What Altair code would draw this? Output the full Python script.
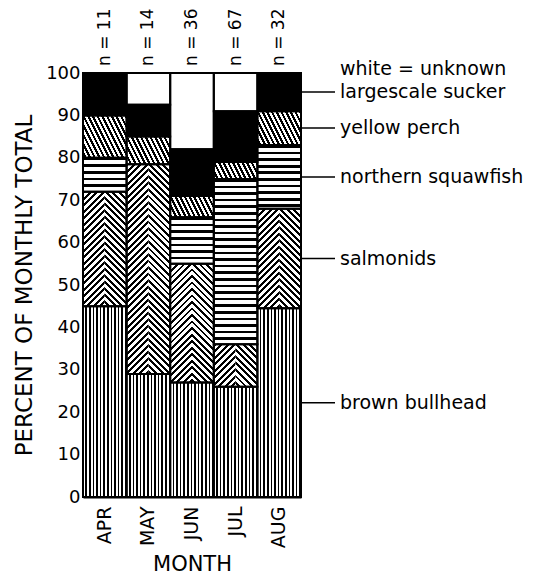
import math
import altair as alt
import pandas as pd

# ---- data ----
months = ["APR", "MAY", "JUN", "JUL", "AUG"]
n_fish = [11, 14, 36, 67, 32]
brown_bullhead = [45, 29, 27, 26, 44.5]
salmonids = [27, 49.5, 28, 10, 23.5]
northern_squawfish = [8, 0, 11, 39, 15]
yellow_perch = [10, 6.5, 5, 4, 8]
largescale_sucker = [10, 7.5, 11, 12, 9]
unknown = [0, 7.5, 18, 9, 0]
species = ["brown bullhead", "salmonids", "northern squawfish",
           "yellow perch", "largescale sucker", "unknown"]
legend_text = ["brown bullhead", "salmonids", "northern squawfish",
               "yellow perch", "largescale sucker", "white = unknown"]
series = [brown_bullhead, salmonids, northern_squawfish,
          yellow_perch, largescale_sucker, unknown]

# ---- layout ----
PLOT_W, PLOT_H = 218, 424
BAND = PLOT_W / len(months)
PX = PLOT_H / 100.0
FONT = "DejaVu Sans"

rows = []
for i, m in enumerate(months):
    acc = 0.0
    for s, lab, vals in zip(species, legend_text, series):
        v = vals[i]
        rows.append(dict(month=m, species=s, label=lab, value=v,
                         start=acc, end=acc + v, mid=acc + v / 2))
        acc += v
df = pd.DataFrame(rows)
ndf = pd.DataFrame({"month": months, "label": [f"n = {n}" for n in n_fish]})


def stripes(w, h, dx, dy, period, frac, fg="black", bg="white"):
    """Linear gradient with hard stops that draws parallel lines
    running in direction (dx, dy) inside a w x h box."""
    L = math.hypot(dx, dy)
    nx, ny = -dy / L, dx / L
    corners = [(0, 0), (1, 0), (0, 1), (1, 1)]
    fs = [cu * w * nx + cv * h * ny for cu, cv in corners]
    imin = min(range(4), key=lambda k: fs[k])
    fmin, fmax = fs[imin], max(fs)
    R = fmax - fmin
    gx, gy = w * nx / R, h * ny / R
    g2 = gx * gx + gy * gy
    p1 = corners[imin]
    p2 = (p1[0] + gx / g2, p1[1] + gy / g2)
    n = R / period
    stops = []
    k = 0
    while k / n < 1:
        s = k / n
        e = min((k + frac) / n, 1.0)
        nxt = min((k + 1) / n, 1.0)
        stops += [{"offset": round(s, 5), "color": fg},
                  {"offset": round(e, 5), "color": fg}]
        if e < 1:
            stops += [{"offset": round(e, 5), "color": bg},
                      {"offset": round(nxt, 5), "color": bg}]
        k += 1
    return {"gradient": "linear",
            "x1": round(p1[0], 5), "y1": round(p1[1], 5),
            "x2": round(p2[0], 5), "y2": round(p2[1], 5),
            "stops": stops}


xscale = alt.Scale(domain=months, paddingInner=0, paddingOuter=0)
yscale = alt.Scale(domain=[0, 100], nice=False)

AXIS_X = alt.Axis(title="MONTH", labelAngle=270, labelFontSize=19,
                  labelPadding=9, ticks=False, domain=True,
                  domainColor="black", domainWidth=2,
                  labelColor="black", titleColor="black",
                  titleFontSize=21, titleFontWeight="normal",
                  titleY=73, titleBaseline="alphabetic",
                  labelFont=FONT, titleFont=FONT)
AXIS_Y = alt.Axis(title="PERCENT OF MONTHLY TOTAL",
                  values=list(range(0, 101, 10)),
                  labelFontSize=18, labelColor="black",
                  labelPadding=3, ticks=False, grid=False,
                  domain=True, domainColor="black", domainWidth=2,
                  labelFlush=False, labelOverlap=False,
                  titleFontSize=23, titleFontWeight="normal",
                  titleColor="black", titleAngle=270,
                  titleX=-59, titleY=PLOT_H / 2,
                  titleAlign="center", titleBaseline="middle",
                  labelFont=FONT, titleFont=FONT)

# every layer shares the same axis objects (axis=None would disable them)
xenc = alt.X("month:N", sort=months, scale=xscale, axis=AXIS_X)
yenc = alt.Y("start:Q", scale=yscale, axis=AXIS_Y)
y2enc = alt.Y2("end:Q")
ymid = alt.Y("mid:Q", scale=yscale, axis=AXIS_Y)
yend = alt.Y("end:Q", scale=yscale, axis=AXIS_Y)
ytop = alt.YDatum(datum=100, scale=yscale, axis=AXIS_Y)


def seg(sp, m=None):
    d = df[(df.species == sp) & (df.value > 0)]
    if m is not None:
        d = d[d.month == m]
    return d


layers = []
# brown bullhead: vertical lines
layers.append(alt.Chart(seg("brown bullhead")).mark_bar(
    fill=stripes(BAND, 100, 0, 1, 3.6, 0.47)).encode(x=xenc, y=yenc, y2=y2enc))

for m in months:
    # salmonids: chevrons (two halves with opposite slopes)
    d = seg("salmonids", m)
    if len(d):
        h = float(d.value.iloc[0]) * PX
        layers.append(alt.Chart(d).mark_bar(
            fill=stripes(BAND / 2, h, 1, -1, 4.6, 0.45),
            width=BAND / 2, xOffset=-BAND / 4).encode(x=xenc, y=yenc, y2=y2enc))
        layers.append(alt.Chart(d).mark_bar(
            fill=stripes(BAND / 2, h, 1, 1, 4.6, 0.45),
            width=BAND / 2, xOffset=BAND / 4).encode(x=xenc, y=yenc, y2=y2enc))
    # northern squawfish: horizontal lines
    d = seg("northern squawfish", m)
    if len(d):
        h = float(d.value.iloc[0]) * PX
        layers.append(alt.Chart(d).mark_bar(
            fill=stripes(BAND, h, 1, 0, 6.6, 0.4)).encode(x=xenc, y=yenc, y2=y2enc))
    # yellow perch: steep wavy-like lines
    d = seg("yellow perch", m)
    if len(d):
        h = float(d.value.iloc[0]) * PX
        layers.append(alt.Chart(d).mark_bar(
            fill=stripes(BAND, h, 1, 2, 4.2, 0.5)).encode(x=xenc, y=yenc, y2=y2enc))

layers.append(alt.Chart(seg("largescale sucker")).mark_bar(fill="black").encode(
    x=xenc, y=yenc, y2=y2enc))
layers.append(alt.Chart(seg("unknown")).mark_bar(fill="white").encode(
    x=xenc, y=yenc, y2=y2enc))

# outlines
layers.append(alt.Chart(df[df.value > 0]).mark_bar(
    fillOpacity=0, stroke="black", strokeWidth=2).encode(x=xenc, y=yenc, y2=y2enc))

# n labels above bars
layers.append(alt.Chart(ndf).mark_text(
    angle=270, align="left", baseline="middle", dx=7, fontSize=17,
    font=FONT, color="black").encode(x=xenc, y=ytop, text="label:N"))

# leaders to the last bar
aug = df[(df.month == months[-1]) & (df.species != "unknown")]
layers.append(alt.Chart(aug).mark_rule(stroke="black", strokeWidth=1.5).encode(
    x=alt.value(PLOT_W), x2=alt.value(PLOT_W + 34), y=ymid))
layers.append(alt.Chart(aug).mark_text(
    align="left", baseline="middle", fontSize=19, font=FONT, color="black").encode(
    x=alt.value(PLOT_W + 39), y=ymid, text="label:N"))
unk = df[(df.month == months[-1]) & (df.species == "unknown")]
layers.append(alt.Chart(unk).mark_text(
    align="left", baseline="middle", fontSize=19, font=FONT, color="black",
    dy=-4).encode(x=alt.value(PLOT_W + 39), y=yend, text="label:N"))

chart = alt.layer(*layers).properties(
    width=PLOT_W, height=PLOT_H,
    autosize=alt.AutoSizeParams(type="none"),
    padding={"left": 75, "top": 65, "right": 232, "bottom": 81},
).configure(font=FONT, background="white").configure_view(stroke=None)

chart.save("out.html", embed_options={"renderer": "svg", "actions": False})
